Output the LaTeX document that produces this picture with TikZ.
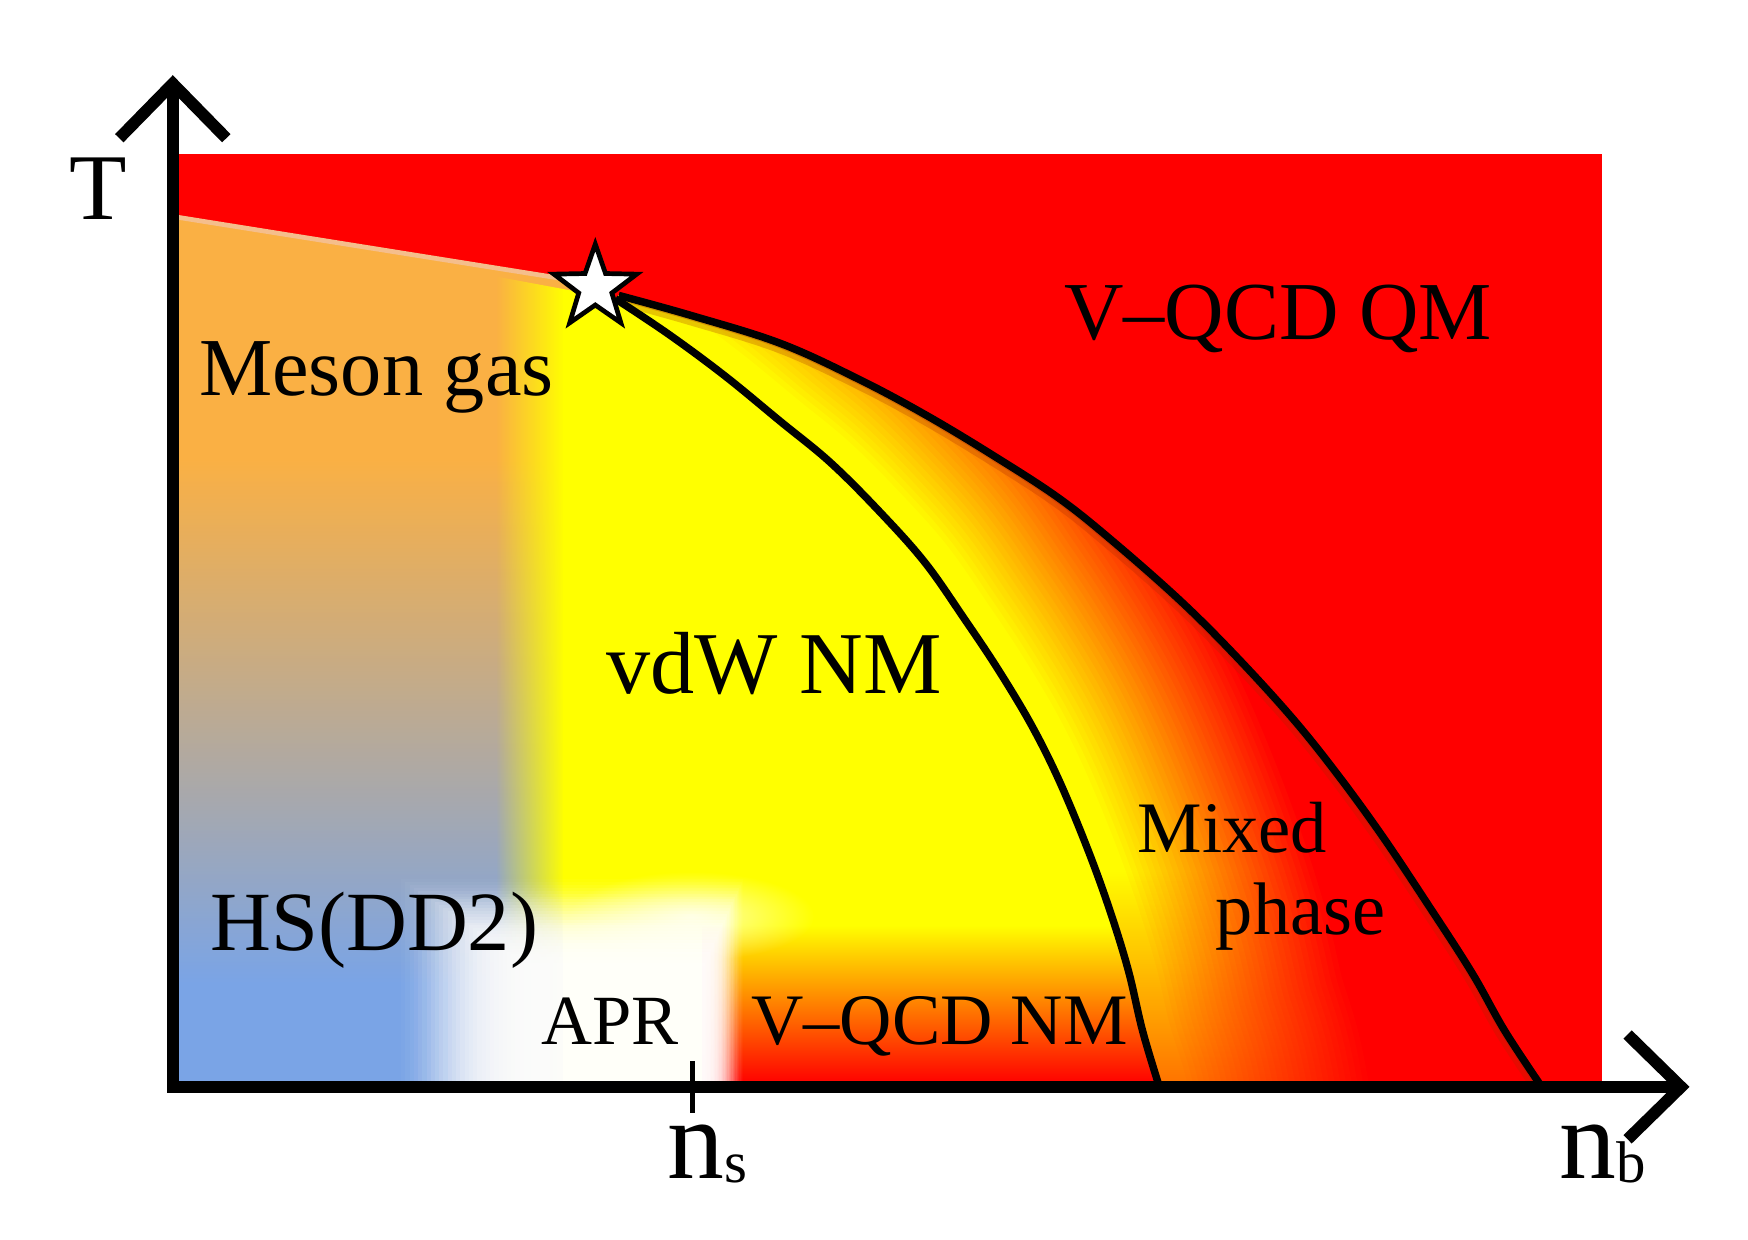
\documentclass[tikz,border=0pt]{standalone}
\usepackage{fontspec}
\usepackage{graphicx}
\setmainfont{Liberation Serif}
\usetikzlibrary{shapes.geometric,fadings}
\definecolor{qmred}{RGB}{255,0,0}
\definecolor{vdwyellow}{RGB}{255,255,0}
\definecolor{mesonorange}{RGB}{250,176,68}
\definecolor{mesontan}{RGB}{188,172,152}
\definecolor{hsblue}{RGB}{122,164,230}
\definecolor{nmorange}{RGB}{255,140,0}
\definecolor{darkedge}{RGB}{160,40,0}
\definecolor{paleline}{RGB}{245,190,140}
\newcommand\setfs[1]{\fontsize{#1}{#1}\selectfont}
\tikzfading[name=aprblob, inner color=transparent!0, outer color=transparent!100]
\tikzset{
  axisline/.style={line width=3pt, line join=miter},
  phaseline/.style={line width=1.9pt, line join=round, smooth, tension=0.6},
  phaselabel/.style={anchor=base west, inner sep=0pt},
}
\begin{document}
\begin{tikzpicture}[x=0.01cm, y=0.01cm]
  \useasboundingbox (0,0) rectangle (1568,1112);
  % quark matter
  \fill[qmred] (160,142) rectangle (1437,974);
  % meson gas and HS(DD2)
  \fill[mesonorange] (160,917) -- (520,861) -- (520,700) -- (160,700) -- cycle;
  \shade[top color=mesonorange, middle color=mesontan, bottom color=hsblue] (160,230) rectangle (520,700);
  \fill[hsblue] (160,142) rectangle (520,230);
  % vdW NM and V-QCD NM
  \begin{scope}
    \clip (160,142) -- (160,917) -- plot[smooth, tension=0.6] coordinates {(552,844) (600,812) (650,775) (700,734) (745,697) (790,652) (830,607) (865,557) (895,512) (925,462) (950,412) (975,352) (995,297) (1012,242) (1025,187) (1040,137)} -- cycle;
    \fill[vdwyellow] (505,142) rectangle (1100,870);
    \fill[vdwyellow, path fading=west] (445,142) rectangle (506,870);
    \shade[top color=vdwyellow, middle color=nmorange, bottom color=qmred] (630,140) rectangle (1100,282);
  \end{scope}
  % APR
  \foreach \i [evaluate=\i as \lx using 470-3.8*\i, evaluate=\i as \rx using 632+1.2*\i, evaluate=\i as \ty using 248+2.6*\i, evaluate=\i as \al using 0.3-0.0095*\i] in {0,...,29}
    \fill[white, opacity=\al] (\lx,140) rectangle (\rx,\ty);
  \fill[white, path fading=aprblob, opacity=0.7] (620,290) ellipse [x radius=110, y radius=40];
  % mixed phase
  \begin{scope}
    \clip plot[smooth, tension=0.6] coordinates {(555,847) (620,829) (700,804) (770,772) (830,740) (890,704) (950,665) (1000,625) (1060,572) (1110,522) (1160,467) (1200,417) (1240,362) (1280,302) (1320,240) (1350,187) (1383,137)}
      -- (1040,137) -- plot[smooth, tension=0.6] coordinates {(1040,137) (1025,187) (1012,242) (995,297) (975,352) (950,412) (925,462) (895,512) (865,557) (830,607) (790,652) (745,697) (700,734) (650,775) (600,812) (552,844)} -- cycle;
    \fill[qmred] (540,120) rectangle (1400,860);
    \foreach \w [evaluate=\w as \lw using \w*0.2845, evaluate=\w as \p using int(115-0.3*\w)] in {380,370,...,50}
      \draw[line width=\lw pt, vdwyellow!\p!qmred, smooth, tension=0.6] plot coordinates {(480,895) (552,844) (600,812) (650,775) (700,734) (745,697) (790,652) (830,607) (865,557) (895,512) (925,462) (950,412) (975,352) (995,297) (1012,242) (1025,187) (1040,137) (1050,80)};
    \fill[qmred, path fading=north, opacity=0.6] (900,120) rectangle (1400,330);
    \draw[line width=5pt, darkedge, opacity=0.25, smooth, tension=0.6] plot coordinates {(555,847) (620,829) (700,804) (770,772) (830,740) (890,704) (950,665) (1000,625) (1060,572) (1110,522) (1160,467) (1200,417) (1240,362) (1280,302) (1320,240) (1350,187) (1383,137)};
    \draw[line width=2.5pt, darkedge, opacity=0.3, smooth, tension=0.6] plot coordinates {(555,847) (620,829) (700,804) (770,772) (830,740) (890,704) (950,665) (1000,625) (1060,572) (1110,522) (1160,467) (1200,417) (1240,362) (1280,302) (1320,240) (1350,187) (1383,137)};
  \end{scope}
  % phase boundaries
  \coordinate (mesonleft) at (160,917);
  \coordinate (mesonright) at (505,862);
  \draw[paleline, line width=1.2pt] (mesonleft) -- (mesonright);
  \draw[phaseline] plot coordinates {(552,844) (600,812) (650,775) (700,734) (745,697) (790,652) (830,607) (865,557) (895,512) (925,462) (950,412) (975,352) (995,297) (1012,242) (1025,187) (1040,137)};
  \draw[phaseline] plot coordinates {(555,847) (620,829) (700,804) (770,772) (830,740) (890,704) (950,665) (1000,625) (1060,572) (1110,522) (1160,467) (1200,417) (1240,362) (1280,302) (1320,240) (1350,187) (1383,137)};
  \node[star, star points=5, star point ratio=2.5, minimum size=0.78cm, inner sep=0pt, fill=white, draw=black, line width=1.2pt] (cep) at (534,854) {};
  % axes
  \coordinate (O) at (155,137);
  \coordinate (ytip) at (155,1037);
  \coordinate (xtip) at (1508,137);
  \coordinate (yheadl) at (107,988);
  \coordinate (yheadr) at (203,988);
  \coordinate (xheadt) at (1460,184);
  \coordinate (xheadb) at (1460,90);
  \coordinate (ticktop) at (621,160);
  \coordinate (tickbot) at (621,114);
  \draw[axisline] (ytip) -- (O) -- (xtip);
  \draw[axisline] (yheadl) -- (ytip) -- (yheadr);
  \draw[axisline] (xheadt) -- (xtip) -- (xheadb);
  \draw[line width=1.2pt] (ticktop) -- (tickbot);
  % labels
  \node[phaselabel, anchor=base, font=\setfs{24}] (tlab) at (88,915) {T};
  \node[phaselabel, font=\setfs{29}] (nslab) at (598,55) {n\raisebox{-1pt}{\setfs{15}s}};
  \node[phaselabel, font=\setfs{29}] (nblab) at (1398,55) {n\raisebox{-1pt}{\setfs{15}b}};
  \node[phaselabel, font=\setfs{21}] (meson) at (178,757) {Meson gas};
  \node[phaselabel, font=\setfs{21}] (vqcdqm) at (954,807) {V--QCD QM};
  \node[phaselabel, font=\setfs{22.5}] (vdwnm) at (543,490) {vdW NM};
  \node[phaselabel, font=\setfs{21.5}] (hsdd) at (188,259) {HS(DD2)};
  \node[phaselabel, font=\setfs{18}] (apr) at (485,175) {APR};
  \node[phaselabel, font=\setfs{18.5}] (vqcdnm) at (673,175) {V--QCD NM};
  \node[phaselabel, font=\setfs{18.5}] (mixed) at (1020,347) {Mixed};
  \node[phaselabel, font=\setfs{19}] (phase) at (1090,274) {phase};
\end{tikzpicture}
\end{document}
